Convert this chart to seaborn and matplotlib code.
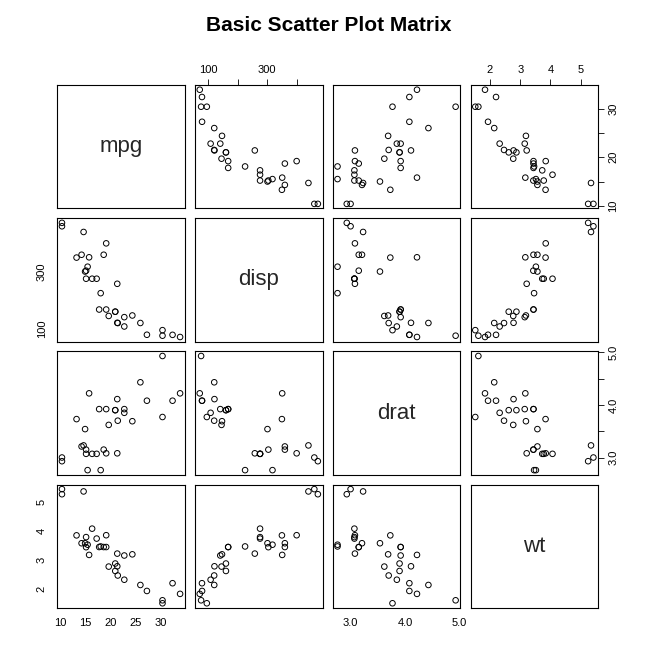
import numpy as np
import pandas as pd
import matplotlib
matplotlib.use("Agg")
import matplotlib.pyplot as plt
import seaborn as sns

# mtcars kolonlari
mpg = [21.0, 21.0, 22.8, 21.4, 18.7, 18.1, 14.3, 24.4, 22.8, 19.2, 17.8, 16.4, 17.3, 15.2, 10.4, 10.4,
       14.7, 32.4, 30.4, 33.9, 21.5, 15.5, 15.2, 13.3, 19.2, 27.3, 26.0, 30.4, 15.8, 19.7, 15.0, 21.4]
disp = [160, 160, 108, 258, 360, 225, 360, 146.7, 140.8, 167.6, 167.6, 275.8, 275.8, 275.8, 472, 460,
        440, 78.7, 75.7, 71.1, 120.1, 318, 304, 350, 400, 79, 120.3, 95.1, 351, 145, 301, 121]
drat = [3.90, 3.90, 3.85, 3.08, 3.15, 2.76, 3.21, 3.69, 3.92, 3.92, 3.92, 3.07, 3.07, 3.07, 2.93, 3.00,
        3.23, 4.08, 4.93, 4.22, 3.70, 2.76, 3.15, 3.73, 3.08, 4.08, 4.43, 3.77, 4.22, 3.62, 3.54, 4.11]
wt = [2.620, 2.875, 2.320, 3.215, 3.440, 3.460, 3.570, 3.190, 3.150, 3.440, 3.440, 4.070, 3.730, 3.780,
      5.250, 5.424, 5.345, 2.200, 1.615, 1.835, 2.465, 3.520, 3.435, 3.840, 3.845, 1.935, 2.140, 1.513,
      3.170, 2.770, 3.570, 2.780]

names = ["mpg", "disp", "drat", "wt"]
df = pd.DataFrame({"mpg": mpg, "disp": disp, "drat": drat, "wt": wt})

# eksen tikleri (etiket: bos string = etiketsiz tik)
ticks = {
    "mpg": ([10, 15, 20, 25, 30], ["10", "15", "20", "25", "30"]),
    "disp": ([100, 200, 300, 400], ["100", "", "300", ""]),
    "drat": ([3.0, 3.5, 4.0, 4.5, 5.0], ["3.0", "", "4.0", "", "5.0"]),
    "wt": ([2, 3, 4, 5], ["2", "3", "4", "5"]),
}
ticks_outer = {
    "mpg": ([10, 15, 20, 25, 30], ["10", "", "20", "", "30"]),
    "disp": ([100, 200, 300, 400], ["100", "", "300", ""]),
    "drat": ([3.0, 3.5, 4.0, 4.5, 5.0], ["3.0", "", "4.0", "", "5.0"]),
    "wt": ([2, 3, 4, 5], ["2", "3", "4", "5"]),
}

def lims(v):
    lo, hi = min(v), max(v)
    pad = (hi - lo) * 0.04
    return lo - pad, hi + pad

sns.set_style("white")
plt.rcParams['font.family'] = ['Liberation Sans', 'DejaVu Sans']
fig, axes = plt.subplots(4, 4, figsize=(6.58, 6.55), dpi=100)
fig.subplots_adjust(left=0.087, right=0.909, top=0.870, bottom=0.072, wspace=0.08, hspace=0.08)

for i, yn in enumerate(names):
    for j, xn in enumerate(names):
        ax = axes[i, j]
        ax.set_xlim(lims(df[xn]))
        ax.set_ylim(lims(df[yn]))
        if i != j:
            sns.scatterplot(data=df, x=xn, y=yn, ax=ax, marker="o", s=16,
                            facecolor="none", edgecolor="black", linewidth=0.7)
        else:
            ax.text(0.5, 0.5, xn, transform=ax.transAxes, ha="center", va="center", fontsize=16)
        ax.set_xlabel("")
        ax.set_ylabel("")
        ax.set_xticks([])
        ax.set_yticks([])
        for s in ax.spines.values():
            s.set_color("black")
            s.set_linewidth(0.8)
        ax.tick_params(direction="out", length=4, width=0.6, labelsize=8, colors="black")
        # R pairs tarzi alternatif eksenler
        if i == 0 and j % 2 == 1:
            ax.xaxis.tick_top()
            ax.set_xticks(ticks[xn][0], ticks[xn][1])
        if i == 3 and j % 2 == 0:
            ax.set_xticks(ticks[xn][0], ticks[xn][1])
        if j == 0 and i % 2 == 1:
            ax.set_yticks(ticks_outer[yn][0], ticks_outer[yn][1])
            plt.setp(ax.get_yticklabels(), rotation=90, va="center")
        if j == 3 and i % 2 == 0:
            ax.yaxis.tick_right()
            ax.set_yticks(ticks_outer[yn][0], ticks_outer[yn][1])
            plt.setp(ax.get_yticklabels(), rotation=90, va="center")

fig.suptitle("Basic Scatter Plot Matrix", fontsize=15, fontweight="bold", color="black", y=0.975)
fig.savefig("out.png", dpi=100)
